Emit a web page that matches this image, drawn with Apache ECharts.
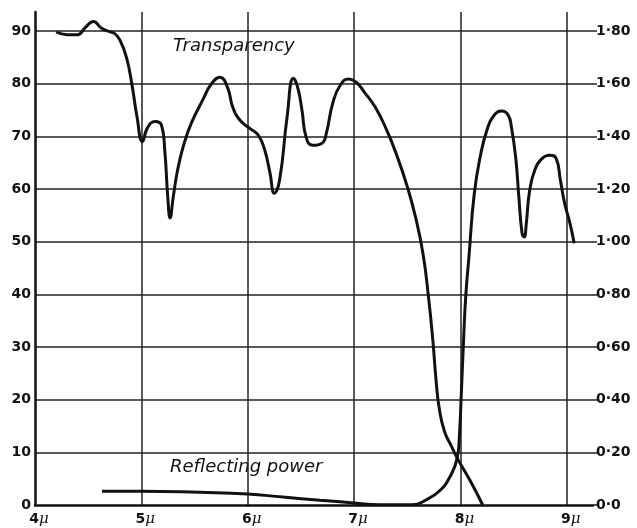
<!DOCTYPE html>
<html><head><meta charset="utf-8">
<script src="https://cdn.jsdelivr.net/npm/echarts@6/dist/echarts.min.js"></script>
<style>html,body{margin:0;padding:0;background:#fff}#c{width:637px;height:528px}</style>
</head><body><div id="c"></div>
<script>
// Tick labels
const xTicks = [4, 5, 6, 7, 8, 9];
const leftTicks = [0, 10, 20, 30, 40, 50, 60, 70, 80, 90];
const rightTickLabels = ['0·0', '0·20', '0·40', '0·60', '0·80', '1·00', '1·20', '1·40', '1·60', '1·80'];

// Transparency curve: [wavelength (μ), percent]
const transparency = [
  [4.20, 89.8], [4.30, 89.3], [4.40, 89.3], [4.47, 90.6], [4.55, 91.8], [4.62, 90.6],
  [4.68, 90.0], [4.75, 89.5], [4.80, 88.2], [4.86, 85.0], [4.91, 80.0], [4.96, 73.6],
  [5.01, 69.0], [5.06, 71.7], [5.13, 72.8], [5.19, 72.1], [5.22, 67.4], [5.25, 58.0],
  [5.27, 54.5], [5.30, 58.5], [5.34, 63.5], [5.40, 68.5], [5.47, 72.5], [5.58, 77.0],
  [5.66, 80.0], [5.74, 81.2], [5.81, 79.3], [5.86, 75.5], [5.93, 73.0], [6.02, 71.5],
  [6.10, 70.2], [6.16, 67.4], [6.21, 63.0], [6.25, 59.2], [6.30, 61.7], [6.37, 73.6],
  [6.43, 81.0], [6.47, 79.3], [6.51, 75.0], [6.55, 69.8], [6.61, 68.3], [6.70, 68.7],
  [6.74, 70.6], [6.80, 76.3], [6.87, 79.7], [6.95, 80.9], [7.02, 80.3], [7.10, 78.3],
  [7.20, 75.5], [7.30, 71.5], [7.40, 66.5], [7.50, 60.5], [7.58, 54.5], [7.65, 47.5],
  [7.70, 39.5], [7.74, 31.5], [7.77, 24.0], [7.80, 18.5], [7.85, 14.0], [7.92, 11.0],
  [7.97, 8.9], [8.09, 4.7], [8.21, 0.0]
];

// Reflecting power curve: [wavelength (μ), percent]
const reflecting = [
  [4.63, 2.6], [5.00, 2.6], [5.55, 2.4], [6.00, 2.1], [6.33, 1.5], [6.68, 0.9],
  [7.00, 0.4], [7.24, 0.05], [7.55, 0.05], [7.68, 1.0], [7.81, 2.8], [7.90, 5.3],
  [7.97, 8.9], [7.99, 12.9], [8.01, 21.8], [8.03, 31.3], [8.05, 39.5], [8.08, 47.0],
  [8.13, 59.0], [8.19, 66.5], [8.25, 71.2], [8.31, 73.8], [8.39, 74.8], [8.45, 74.0],
  [8.48, 71.7], [8.52, 66.0], [8.55, 58.4], [8.58, 51.6], [8.60, 50.9], [8.62, 53.5],
  [8.65, 59.5], [8.70, 63.6], [8.77, 65.8], [8.84, 66.4], [8.90, 65.8], [8.94, 61.7],
  [8.98, 57.3], [9.03, 53.5], [9.07, 49.7]
];

const INK = '#111';
const gridLine = { color: '#222', width: 1.5 };
const labelFont = { fontFamily: 'DejaVu Sans', fontWeight: 'bold', fontSize: 14, color: INK };

const chart = echarts.init(document.getElementById('c'), null, { renderer: 'canvas' });
chart.setOption({
  animation: false,
  backgroundColor: '#fff',
  grid: { left: 35, right: 44, top: 12, bottom: 23 },
  xAxis: {
    type: 'value', min: 4, max: 9.247, interval: 1,
    axisLine: { show: true, lineStyle: { color: INK, width: 2.5 } },
    axisTick: { show: false },
    splitLine: { show: true, showMinLine: false, showMaxLine: false, lineStyle: gridLine },
    axisLabel: {
      margin: 7,
      padding: [0, 0, 0, 8],
      formatter: v => xTicks.includes(v) ? '{n|' + v + '}{u|μ}' : '',
      rich: {
        n: labelFont,
        u: { fontFamily: 'DejaVu Serif', fontStyle: 'italic', fontSize: 15, color: INK }
      }
    }
  },
  yAxis: [
    {
      type: 'value', min: 0, max: 93.6, interval: 10, position: 'left',
      axisLine: { show: true, lineStyle: { color: INK, width: 2.5 } },
      axisTick: { show: false },
      splitLine: { show: true, showMinLine: false, showMaxLine: false, lineStyle: gridLine },
      axisLabel: Object.assign({ margin: 4, formatter: v => leftTicks.includes(v) ? String(v) : '' }, labelFont)
    },
    {
      type: 'value', min: 0, max: 93.6, interval: 10, position: 'right',
      axisLine: { show: false },
      axisTick: { show: true, length: 4, lineStyle: gridLine, customValues: leftTicks },
      splitLine: { show: false },
      axisLabel: Object.assign({
        margin: 3, customValues: leftTicks,
        formatter: v => { const i = leftTicks.indexOf(v); return i >= 0 ? rightTickLabels[i] : ''; }
      }, labelFont)
    }
  ],
  series: [
    {
      name: 'Transparency', type: 'line', yAxisIndex: 0, data: transparency,
      showSymbol: false, smooth: 0.5,
      lineStyle: { color: INK, width: 3 }
    },
    {
      name: 'Reflecting power', type: 'line', yAxisIndex: 0, data: reflecting,
      showSymbol: false, smooth: 0.5,
      lineStyle: { color: INK, width: 3 }
    }
  ],
  graphic: [
    { type: 'text', x: 173, y: 46, style: { text: 'Transparency', font: 'italic 18px "DejaVu Sans"', fill: INK, verticalAlign: 'middle', align: 'left' } },
    { type: 'text', x: 170, y: 467, style: { text: 'Reflecting power', font: 'italic 18px "DejaVu Sans"', fill: INK, verticalAlign: 'middle', align: 'left' } }
  ]
});
</script>
</body></html>
